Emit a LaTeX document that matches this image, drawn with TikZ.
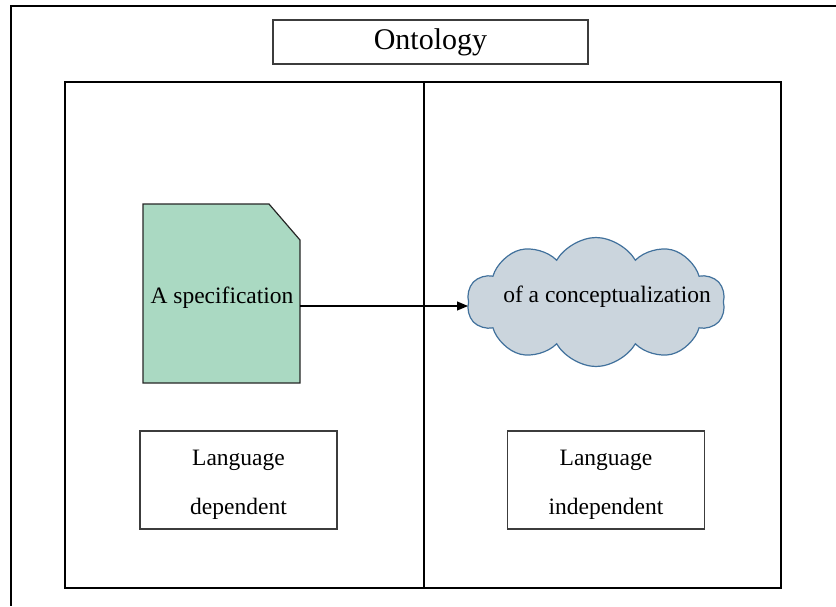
\documentclass[tikz,border=0pt]{standalone}
\usepackage{fontspec}
\setmainfont{Liberation Serif}
\usetikzlibrary{shapes.symbols,arrows.meta}
\definecolor{docgreen}{RGB}{170,217,194}
\definecolor{cloudfill}{RGB}{203,213,221}
\definecolor{cloudline}{RGB}{65,113,156}
\definecolor{boxline}{RGB}{60,60,60}
\tikzset{
  panel/.style={draw=black, line width=1.4pt, minimum width=#1, minimum height=506pt, inner sep=0pt},
  labelbox/.style={draw=boxline, line width=1.3pt, minimum width=197pt, minimum height=98pt, inner sep=0pt},
  labeltxt/.style={align=center, inner sep=0pt, font=\fontsize{23.5}{49}\selectfont},
  txt/.style={font=\fontsize{23.5}{28}\selectfont, inner sep=0pt},
}
\begin{document}
\begin{tikzpicture}[x=1pt,y=-1pt]
\useasboundingbox (0,0) rectangle (836,606);
% outer frame (open at right and bottom)
\draw[line width=1.4pt] (836,6) -- (11,6) -- (11,606);
% title
\node[draw=boxline, line width=1.3pt, minimum width=315pt, minimum height=44pt, inner sep=0pt,
      font=\fontsize{30}{36}\selectfont] (title) at (430.5,42) {Ontology};
% panels
\node[panel=359pt] (leftp) at (244.5,335) {};
\node[panel=357pt] (rightp) at (602.5,335) {};
% document shape
\fill[docgreen] (143,204) -- (269,204) -- (300,240) -- (300,383) -- (143,383) -- cycle;
\draw[line width=1.2pt, black!85] (143,204) -- (269,204) -- (300,240) -- (300,383) -- (143,383) -- cycle;
\node[txt] (spec) at (222,298) {A specification};
\coordinate (specE) at (300,306);
% cloud
\node[cloud, cloud puffs=10, cloud puff arc=120, aspect=2.1, draw=cloudline, fill=cloudfill, line width=1.2pt,
      minimum width=258pt, minimum height=129pt, inner sep=0pt] (cloud) at (596,302) {};
\node[txt] (cloudtxt) at (607,297) {of a conceptualization};
% arrow
\draw[line width=1.1pt, -{Triangle[length=11pt,width=9pt]}] (specE) -- (specE -| cloud.west);
% language boxes
\node[labelbox] (ld) at (238.5,480) {};
\node[labeltxt] (ldt) at (238.5,485) {Language\\dependent};
\node[labelbox] (li) at (606,480) {};
\node[labeltxt] (lit) at (606,485) {Language\\independent};
\end{tikzpicture}
\end{document}
